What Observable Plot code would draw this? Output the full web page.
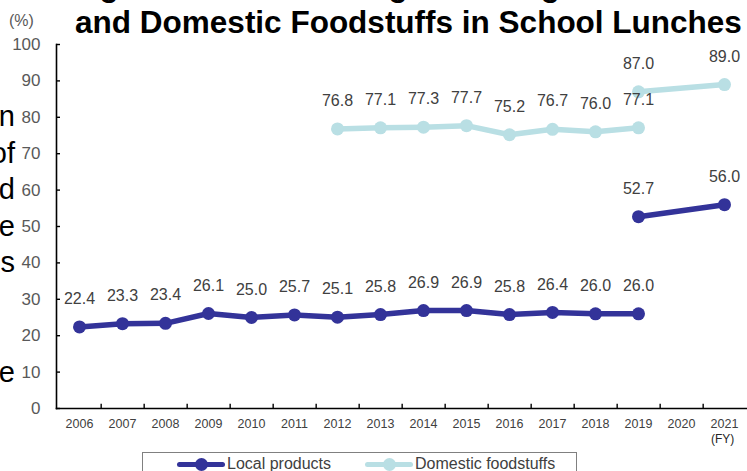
<!DOCTYPE html>
<html>
<head>
<meta charset="utf-8">
<script src="https://cdn.jsdelivr.net/npm/d3@7"></script>
<script src="https://cdn.jsdelivr.net/npm/@observablehq/plot@0.6"></script>
<style>
  html, body { margin: 0; padding: 0; background: #fff; }
  body { width: 747px; height: 471px; overflow: hidden; position: relative; font-family: "Liberation Sans", Arial, sans-serif; }
  #chart { position: absolute; left: 0; top: 0; }
  .title { position: absolute; left: 0; width: 817px; text-align: center; font-weight: bold; font-size: 31.5px; line-height: 36px; color: #000; white-space: nowrap; }
  .side { position: absolute; right: 732px; font-size: 29px; color: #000; text-align: right; line-height: 36.6px; white-space: nowrap; }
  .unit { position: absolute; left: 9px; top: 12px; font-size: 16px; color: #595959; }
  .fy { position: absolute; left: 711px; top: 432px; font-size: 12px; color: #262626; }
  .legend { position: absolute; left: 142px; top: 452px; width: 435px; height: 40px; border: 1px solid #808080; box-sizing: border-box; }
  .item { position: absolute; top: 2px; font-size: 16px; color: #404040; line-height: 18px; white-space: nowrap; }
  .swatch { display: inline-block; position: relative; width: 48px; height: 18px; vertical-align: top; margin-right: 2px; }
  .swatch::before { content: ""; position: absolute; left: 0; right: 0; top: 7px; height: 5px; border-radius: 3px; background: var(--c); }
  .swatch::after { content: ""; position: absolute; left: 18px; top: 3px; width: 13px; height: 13px; border-radius: 50%; background: var(--c); }
</style>
</head>
<body>
<div class="title" style="top:-33px">Changes in the Percentage of Using Local Products</div>
<div class="title" style="top:4px">and Domestic Foodstuffs in School Lunches</div>
<div class="side" style="top:98px">n<br>of<br>d<br>e<br>s<br>&nbsp;<br>&nbsp;<br>e</div>
<div class="unit">(%)</div>
<div id="chart"></div>
<div class="fy">(FY)</div>
<div class="legend">
  <div class="item" style="left:34px"><span class="swatch" style="--c:#333399"></span>Local products</div>
  <div class="item" style="left:222px"><span class="swatch" style="--c:#b9dfe4"></span>Domestic foodstuffs</div>
</div>
<script>
const years = [2006, 2007, 2008, 2009, 2010, 2011, 2012, 2013, 2014, 2015, 2016, 2017, 2018, 2019, 2020, 2021];
const yTicks = [0, 10, 20, 30, 40, 50, 60, 70, 80, 90, 100];

const localYears = [2006, 2007, 2008, 2009, 2010, 2011, 2012, 2013, 2014, 2015, 2016, 2017, 2018, 2019];
const localValues = [22.4, 23.3, 23.4, 26.1, 25.0, 25.7, 25.1, 25.8, 26.9, 26.9, 25.8, 26.4, 26.0, 26.0];
const localNewYears = [2019, 2021];
const localNewValues = [52.7, 56.0];

const domesticYears = [2012, 2013, 2014, 2015, 2016, 2017, 2018, 2019];
const domesticValues = [76.8, 77.1, 77.3, 77.7, 75.2, 76.7, 76.0, 77.1];
const domesticNewYears = [2019, 2021];
const domesticNewValues = [87.0, 89.0];

const colors = { local: "#333399", domestic: "#b9dfe4" };

function rows(ys, vs, series, seg) {
  return ys.map((y, i) => ({ year: y, value: vs[i], series, seg: series + seg }));
}
const data = [
  ...rows(localYears, localValues, "local", "old"),
  ...rows(localNewYears, localNewValues, "local", "new"),
  ...rows(domesticYears, domesticValues, "domestic", "old"),
  ...rows(domesticNewYears, domesticNewValues, "domestic", "new")
];

const W = 747, H = 471, ML = 56;
const step = (727 - 77) / 15;

const chart = Plot.plot({
  width: W,
  height: H,
  marginTop: 44,
  marginBottom: 63,
  marginLeft: ML,
  marginRight: 0,
  style: { fontFamily: "'Liberation Sans', Arial, sans-serif", background: "transparent", overflow: "visible" },
  x: { type: "point", domain: years, padding: 0.5, range: [77 - step / 2, 727 + step / 2] },
  y: { domain: [0, 100], ticks: yTicks },
  color: { domain: ["local", "domestic"], range: [colors.local, colors.domestic] },
  marks: [
    Plot.frame({ anchor: "left", stroke: "#000", strokeWidth: 1.6 }),
    Plot.frame({ anchor: "bottom", stroke: "#000", strokeWidth: 1.6 }),
    Plot.tickY(yTicks, { y: d => d, insetRight: W - ML - 4, stroke: "#000", strokeWidth: 1.4 }),
    Plot.ruleX(years.slice(0, -1), { x: d => d, dx: step / 2, y1: 0, y2: 1.2, stroke: "#000", strokeWidth: 1.4 }),
    Plot.axisY({ ticks: yTicks, tickSize: 0, tickPadding: 16, fontSize: 17, fill: "#595959", label: null }),
    Plot.axisX({ tickSize: 0, tickPadding: 11, fontSize: 12.5, fill: "#404040", label: null, tickFormat: d => String(d) }),
    Plot.line(data, { x: "year", y: "value", z: "seg", stroke: "series", strokeWidth: 5.5 }),
    Plot.dot(data, { x: "year", y: "value", fill: "series", r: 6.5 }),
    Plot.text(data, { x: "year", y: "value", text: d => d.value.toFixed(1), dy: -28, fontSize: 16, fill: "#404040" })
  ]
});
document.getElementById("chart").appendChild(chart);
</script>
</body>
</html>
